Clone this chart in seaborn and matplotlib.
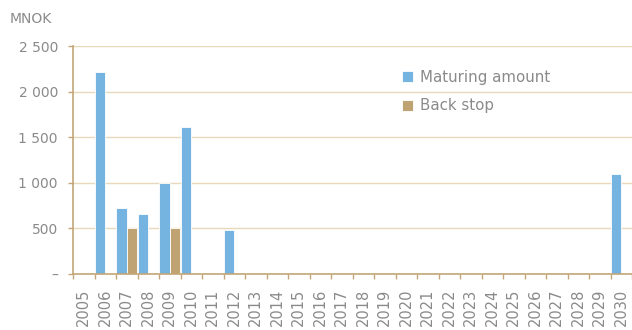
import matplotlib
matplotlib.use("Agg")
import matplotlib.pyplot as plt
import seaborn as sns
import pandas as pd
from matplotlib.ticker import FixedLocator, FuncFormatter

years = ["2005", "2006", "2007", "2008", "2009", "2010", "2011", "2012", "2013",
         "2014", "2015", "2016", "2017", "2018", "2019", "2020", "2021", "2022",
         "2023", "2024", "2025", "2026", "2027", "2028", "2029", "2030"]
maturing = [0, 2215, 725, 655, 1000, 1610, 0, 485, 0, 0, 0, 0, 0, 0, 0, 0, 0, 0,
            0, 0, 0, 0, 0, 0, 0, 1100]
backstop = [0, 0, 500, 0, 500, 0, 0, 0, 0, 0, 0, 0, 0, 0, 0, 0, 0, 0,
            0, 0, 0, 0, 0, 0, 0, 0]
series_names = ["Maturing amount", "Back stop"]
yticks = [0, 500, 1000, 1500, 2000, 2500]

BLUE = "#75B4E0"
TAN = "#BFA373"
GRID = "#E8D9BC"
AXIS = "#C2A678"
TXT = "#8A8A8A"

df = pd.DataFrame({
    "year": years * 2,
    "value": maturing + backstop,
    "series": [series_names[0]] * len(years) + [series_names[1]] * len(years),
})

sns.set_theme(style="white")
plt.rcParams["font.family"] = ["DejaVu Sans"]

fig = plt.figure(figsize=(6.32, 3.30), dpi=100)
ax = fig.add_axes([73 / 632, 1 - 274 / 330, 1 - 73 / 632, (274 - 46) / 330])

sns.barplot(data=df, x="year", y="value", hue="series", order=years,
            hue_order=series_names, palette=[BLUE, TAN], width=0.96,
            edgecolor="white", linewidth=0.6, saturation=1, ax=ax, legend=True)

ax.set_xlim(-0.5, len(years) - 0.5)
ax.set_ylim(0, 2500)
ax.set_xlabel("")
ax.set_ylabel("")

ax.yaxis.set_major_locator(FixedLocator(yticks))
def fmt(v, pos):
    v = int(round(v))
    if v == 0:
        return "\u2013"
    return f"{v:,}".replace(",", " ")
ax.yaxis.set_major_formatter(FuncFormatter(fmt))
ax.grid(axis="y", color=GRID, linewidth=1.0)
ax.grid(axis="x", visible=False)
ax.set_axisbelow(True)

for s in ["top", "right"]:
    ax.spines[s].set_visible(False)
for s in ["left", "bottom"]:
    ax.spines[s].set_color(AXIS)
    ax.spines[s].set_linewidth(1.2)

ax.tick_params(axis="y", which="major", left=True, length=3.6, width=1.0,
               color=AXIS, pad=7.2, labelsize=10, labelcolor=TXT)
ax.tick_params(axis="x", which="major", bottom=True, length=0, pad=10.8,
               labelsize=10.5, labelcolor=TXT, labelrotation=90)
ax.xaxis.set_minor_locator(FixedLocator([i - 0.5 for i in range(len(years) + 1)]))
ax.tick_params(axis="x", which="minor", bottom=True, length=3.6, width=1.0,
               color=AXIS)
for lbl in ax.get_xticklabels():
    lbl.set_va("top")
    lbl.set_ha("center")

handles, labels = ax.get_legend_handles_labels()
ax.legend(handles, labels, loc="center left",
          bbox_to_anchor=(402 / 632, 1 - 91.5 / 330), bbox_transform=fig.transFigure,
          frameon=False, fontsize=10.8, labelcolor=TXT, handlelength=0.75,
          handleheight=0.75, handletextpad=0.45, labelspacing=0.9,
          borderpad=0, borderaxespad=0)

fig.text(10 / 632, 1 - 19 / 330, "MNOK", ha="left", va="center", fontsize=10,
         color=TXT)

fig.savefig("out.png", dpi=100)
